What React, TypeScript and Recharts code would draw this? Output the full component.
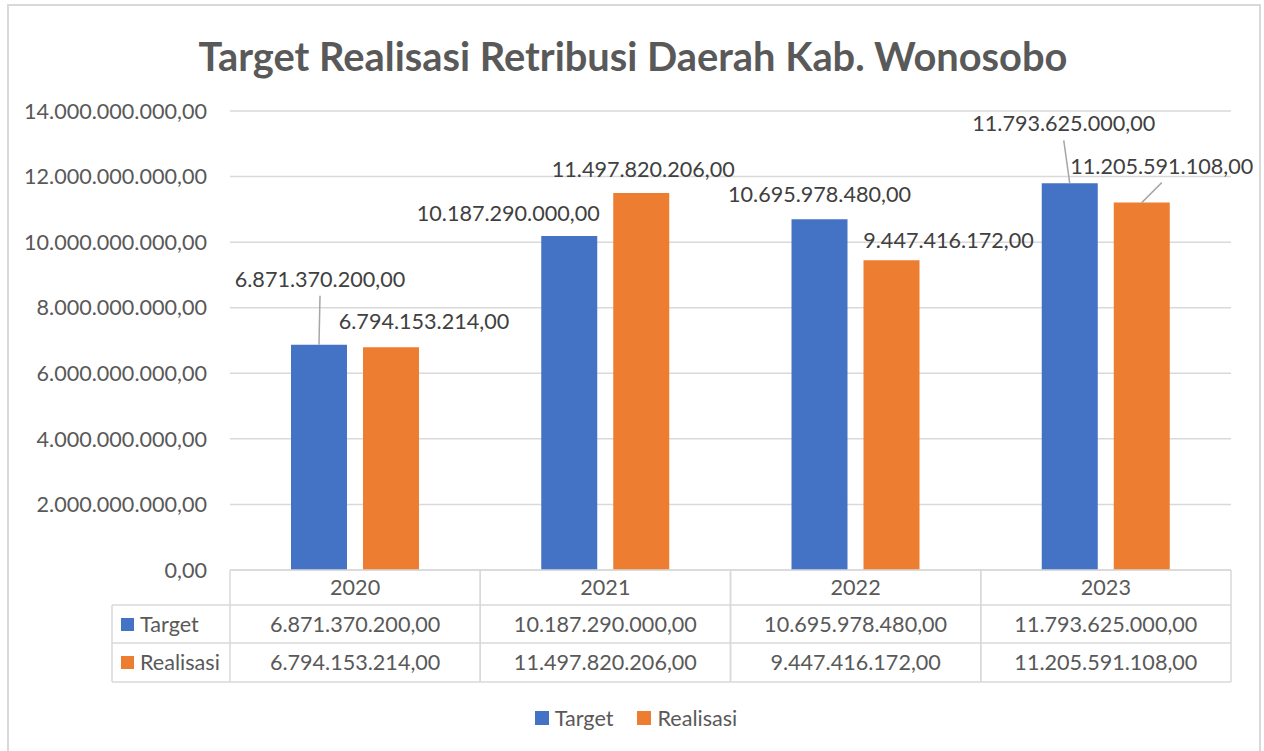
import { BarChart, Bar, XAxis, YAxis, CartesianGrid, LabelList, Legend, Customized } from "recharts";

// --- data ---
const years = ["2020", "2021", "2022", "2023"];
const target = [6871370200, 10187290000, 10695978480, 11793625000];
const realisasi = [6794153214, 11497820206, 9447416172, 11205591108];
const yTicks = [0, 2e9, 4e9, 6e9, 8e9, 10e9, 12e9, 14e9];
const seriesNames = ["Target", "Realisasi"];

// label nudges from bar top centre: [dx, dy, leader line?]
const targetLabelPos = [[1, -66, 1], [-61, -23, 0], [0, -25, 0], [-6, -60, 1]];
const realisasiLabelPos = [[33, -26, 0], [2, -24, 0], [57, -20, 0], [20, -37, 1]];

// --- layout ---
const W = 1264;
const H = 751;
const PLOT_L = 230;
const PLOT_R = 1231;
const PLOT_T = 111;
const PLOT_B = 570;
const ROWS = [605, 643, 682];
const HALF_BAND = (PLOT_R - PLOT_L) / years.length / 2;
const BLUE = "#4472C4";
const ORANGE = "#ED7D31";
const GRID = "#d9d9d9";
const TEXT = "#595959";
const FONT = "Lato, 'Liberation Sans', sans-serif";
const FS = 21.6;

const fmt = (v: number) => {
  const [i, d] = v.toFixed(2).split(".");
  return i.replace(/\B(?=(\d{3})+(?!\d))/g, ".") + "," + d;
};

const data = years.map((y, i) => ({ year: y, target: target[i], realisasi: realisasi[i] }));

const makeLabel = (pos: number[][]) => (props: any) => {
  const { x, y, width, index, value } = props;
  const cx = x + width / 2;
  const [dx, dy, leader] = pos[index];
  const lx = cx + dx;
  const ly = y + dy;
  return (
    <g>
      {leader ? <line x1={cx} y1={y} x2={lx} y2={ly + 17} stroke="#a6a6a6" strokeWidth={1.5} /> : null}
      <text x={lx} y={ly} textAnchor="middle" dominantBaseline="central" fill="#404040" fontSize={FS} fontFamily={FONT}>
        {fmt(value)}
      </text>
    </g>
  );
};

// one column of the data table under each category
const TableColumn = (props: any) => {
  const { x, payload } = props;
  const i = years.indexOf(String(payload.value));
  const l = x - HALF_BAND;
  const r = x + HALF_BAND;
  const t = { textAnchor: "middle" as const, dominantBaseline: "central" as const, fill: TEXT, fontSize: FS, fontFamily: FONT };
  return (
    <g>
      <line x1={l} x2={l} y1={PLOT_B} y2={ROWS[2]} stroke={GRID} strokeWidth={1.5} />
      <line x1={r} x2={r} y1={PLOT_B} y2={ROWS[2]} stroke={GRID} strokeWidth={1.5} />
      {ROWS.map((ry) => (
        <line key={ry} x1={l} x2={r} y1={ry} y2={ry} stroke={GRID} strokeWidth={1.5} />
      ))}
      <text x={x} y={587} {...t}>{years[i]}</text>
      <text x={x} y={624} {...t}>{fmt(target[i])}</text>
      <text x={x} y={662} {...t}>{fmt(realisasi[i])}</text>
    </g>
  );
};

const Extras = () => (
  <g>
    <text x={633} y={55} textAnchor="middle" dominantBaseline="central" fill={TEXT} fontSize={39.8} fontWeight="bold" fontFamily={FONT}>
      Target Realisasi Retribusi Daerah Kab. Wonosobo
    </text>
    <line x1={112} x2={112} y1={ROWS[0]} y2={ROWS[2]} stroke={GRID} strokeWidth={1.5} />
    {ROWS.map((ry) => (
      <line key={ry} x1={112} x2={PLOT_L} y1={ry} y2={ry} stroke={GRID} strokeWidth={1.5} />
    ))}
    <rect x={121} y={618} width={13} height={13} fill={BLUE} />
    <text x={140} y={624} dominantBaseline="central" fill={TEXT} fontSize={FS} fontFamily={FONT}>{seriesNames[0]}</text>
    <rect x={121} y={656} width={13} height={13} fill={ORANGE} />
    <text x={140} y={662} dominantBaseline="central" fill={TEXT} fontSize={FS} fontFamily={FONT}>{seriesNames[1]}</text>
  </g>
);

const LegendBox = () => (
  <div style={{ height: 36, display: "flex", justifyContent: "center", alignItems: "center", gap: 24, fontFamily: FONT, fontSize: FS, color: TEXT, paddingLeft: 8 }}>
    {[BLUE, ORANGE].map((c, i) => (
      <div key={i} style={{ display: "flex", alignItems: "center", gap: 6 }}>
        <span style={{ width: 14, height: 14, background: c, display: "inline-block" }} />
        <span>{seriesNames[i]}</span>
      </div>
    ))}
  </div>
);

export default function App() {
  return (
    <div style={{ position: "absolute", left: 0, top: 0, width: W, height: H, overflow: "hidden", background: "#fff" }}>
      <div style={{ position: "absolute", left: 7, top: 4, width: 1250, height: 780, border: `2px solid ${GRID}` }} />
      <div style={{ position: "absolute", left: 0, top: 0 }}>
        <BarChart
          width={W}
          height={H}
          data={data}
          margin={{ top: PLOT_T, right: W - PLOT_R, bottom: 33, left: 0 }}
          barCategoryGap={61}
          barGap={16}
          style={{ fontFamily: FONT }}
        >
          <CartesianGrid vertical={false} stroke={GRID} strokeWidth={1.5} />
          <XAxis
            dataKey="year"
            height={112}
            axisLine={{ stroke: GRID, strokeWidth: 1.5 }}
            tickLine={false}
            tick={<TableColumn />}
            interval={0}
          />
          <YAxis
            width={PLOT_L}
            domain={[0, 14e9]}
            ticks={yTicks}
            tickFormatter={fmt}
            axisLine={false}
            tickLine={false}
            tickMargin={17}
            tick={{ fill: TEXT, fontSize: FS, fontFamily: FONT }}
          />
          <Legend verticalAlign="bottom" content={<LegendBox />} wrapperStyle={{ left: 0, width: W, bottom: 15 }} />
          <Bar dataKey="target" name={seriesNames[0]} fill={BLUE} isAnimationActive={false}>
            <LabelList dataKey="target" content={makeLabel(targetLabelPos)} />
          </Bar>
          <Bar dataKey="realisasi" name={seriesNames[1]} fill={ORANGE} isAnimationActive={false}>
            <LabelList dataKey="realisasi" content={makeLabel(realisasiLabelPos)} />
          </Bar>
          <Customized component={Extras} />
        </BarChart>
      </div>
    </div>
  );
}
